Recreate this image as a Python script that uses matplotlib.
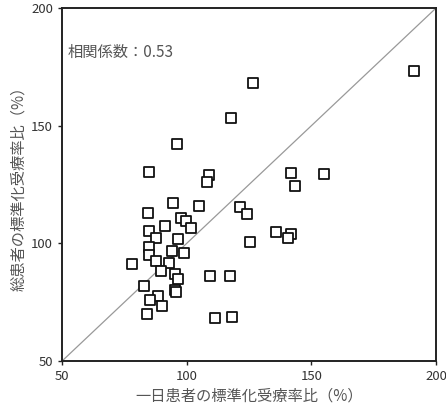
import numpy as np
import matplotlib
matplotlib.use("Agg")
import matplotlib.pyplot as plt

plt.rcParams['font.family'] = ['Noto Sans CJK JP', 'DejaVu Sans']

# 一日患者の標準化受療率比 (x) / 総患者の標準化受療率比 (y)
x_vals = [191.2, 126.5, 117.8, 96.0, 85.0, 109.1, 108.0, 94.4, 105.1, 84.6,
          121.3, 124.2, 97.6, 99.7, 101.7, 91.2, 84.8, 87.7, 96.4, 125.5,
          85.0, 93.9, 99.1, 85.0, 87.8, 77.9, 92.9, 89.7, 95.5, 96.4,
          109.5, 117.2, 82.9, 95.3, 95.8, 88.4, 85.4, 90.2, 84.2, 111.4,
          118.2, 142.0, 155.2, 143.5, 135.7, 142.0, 140.5]
y_vals = [173.4, 168.0, 153.3, 142.1, 130.2, 129.0, 126.2, 117.3, 115.9, 113.0,
          115.3, 112.6, 110.8, 109.3, 106.5, 107.5, 105.2, 102.4, 101.9, 100.4,
          98.6, 96.9, 95.7, 95.0, 92.5, 91.2, 91.5, 88.2, 86.9, 85.0,
          86.0, 86.0, 82.0, 80.0, 79.5, 77.5, 75.8, 73.5, 69.8, 68.3,
          68.6, 129.7, 129.3, 124.2, 104.7, 103.8, 102.1]
ticks = [50, 100, 150, 200]
corr_label = "相関係数：0.53"

fig = plt.figure(figsize=(4.46, 4.16), dpi=100)
ax = fig.add_axes([0.139, 0.132, 0.839, 0.849])

ax.plot([50, 200], [50, 200], color='#999999', linewidth=0.9, zorder=1)
ax.scatter(x_vals, y_vals, marker='s', s=46, facecolors='white',
           edgecolors='#111111', linewidths=1.3, zorder=2)

ax.set_xlim(50, 200)
ax.set_ylim(50, 200)
ax.set_xticks(ticks)
ax.set_yticks(ticks)
ax.tick_params(direction='out', length=3, width=1, labelsize=9.5,
               labelcolor='#333333', colors='#222222')
for s in ax.spines.values():
    s.set_linewidth(1.4)
    s.set_color('#222222')

ax.set_xlabel("一日患者の標準化受療率比（%）", fontsize=11, color='#555555', labelpad=3)
ax.set_ylabel("総患者の標準化受療率比（%）", fontsize=11, color='#555555', labelpad=3)
ax.text(52.3, 181, corr_label, fontsize=11, color='#555555', va='center', ha='left')

fig.savefig("out.png", dpi=100)
